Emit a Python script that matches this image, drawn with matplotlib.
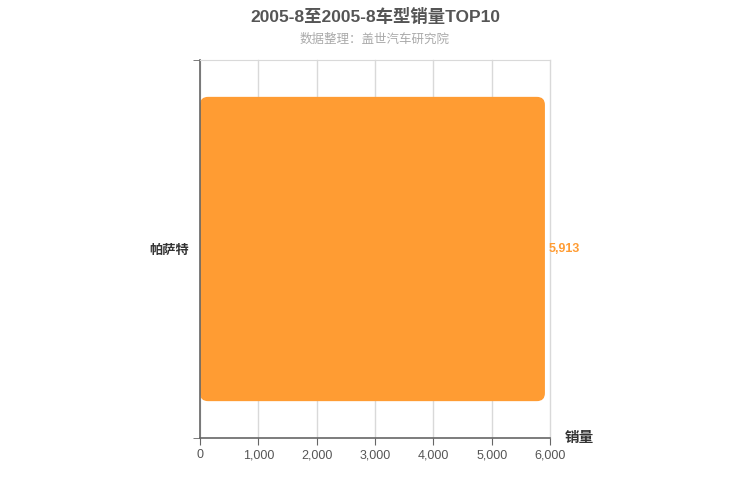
import matplotlib.pyplot as plt
from matplotlib.patches import FancyBboxPatch
from matplotlib.ticker import FuncFormatter

plt.rcParams['font.family'] = ['Liberation Sans', 'Noto Sans CJK SC', 'DejaVu Sans']

models = ['帕萨特']
sales = [5913]
xticks = [0, 1000, 2000, 3000, 4000, 5000, 6000]

title = '2005-8至2005-8车型销量TOP10'
subtitle = '数据整理：盖世汽车研究院'

fig = plt.figure(figsize=(7.5, 5), dpi=100)
ax = fig.add_axes([200/750, 62/500, 350/750, 378/500])

bars = ax.barh(models, sales, height=0.805, color='#ff9c33')
ax.set_xlim(0, 6000)
ax.set_ylim(-0.5, 0.5)

# swap the plain bars for rounded ones
xs_per_px = 6000 / 350
ys_per_px = 1 / 378
for b in bars:
    x0, y0, w, h = b.get_x(), b.get_y(), b.get_width(), b.get_height()
    b.set_visible(False)
    rb = FancyBboxPatch((x0, y0), w, h,
                        boxstyle=f'round,pad=0,rounding_size={8 * xs_per_px}',
                        mutation_aspect=ys_per_px / xs_per_px,
                        fc='#ff9c33', ec='none', zorder=2)
    ax.add_patch(rb)
    ax.text(x0 + w + 60, y0 + h / 2, f'{w:,.0f}', color='#ff9c33',
            fontsize=9, fontweight='bold', va='center', ha='left')

ax.set_xticks(xticks)
ax.xaxis.set_major_formatter(FuncFormatter(lambda v, p: f'{v:,.0f}'))
ax.grid(axis='x', color='#d9d9d9', lw=1, zorder=0)
for gl in ax.get_xgridlines():
    gl.set_clip_on(False)
ax.set_axisbelow(True)

ax.set_yticks([-0.5, 0.5], minor=True)
ax.tick_params(axis='y', which='major', length=0, pad=8, labelsize=9.5, labelcolor='#333333')
ax.tick_params(axis='y', which='minor', length=5, color='#666666')
ax.tick_params(axis='x', length=5, color='#666666', labelsize=9, labelcolor='#555555', pad=3)
for lab in ax.get_yticklabels():
    lab.set_fontweight('bold')

for s in ['left', 'bottom']:
    ax.spines[s].set_color('#666666')
    ax.spines[s].set_linewidth(1.2)
ax.spines['right'].set_visible(False)
ax.spines['top'].set_color('#d9d9d9')

fig.text(565/750, 1 - 438/500, '销量', fontsize=10.5, fontweight='bold',
         color='#333333', ha='left', va='center')

fig.text(0.5, 1 - 16/500, title, fontsize=12.5, fontweight='bold',
         color='#555555', ha='center', va='center')
fig.text(0.5, 1 - 40/500, subtitle, fontsize=9, color='#aaaaaa',
         ha='center', va='center')

fig.savefig('out.png', dpi=100)
